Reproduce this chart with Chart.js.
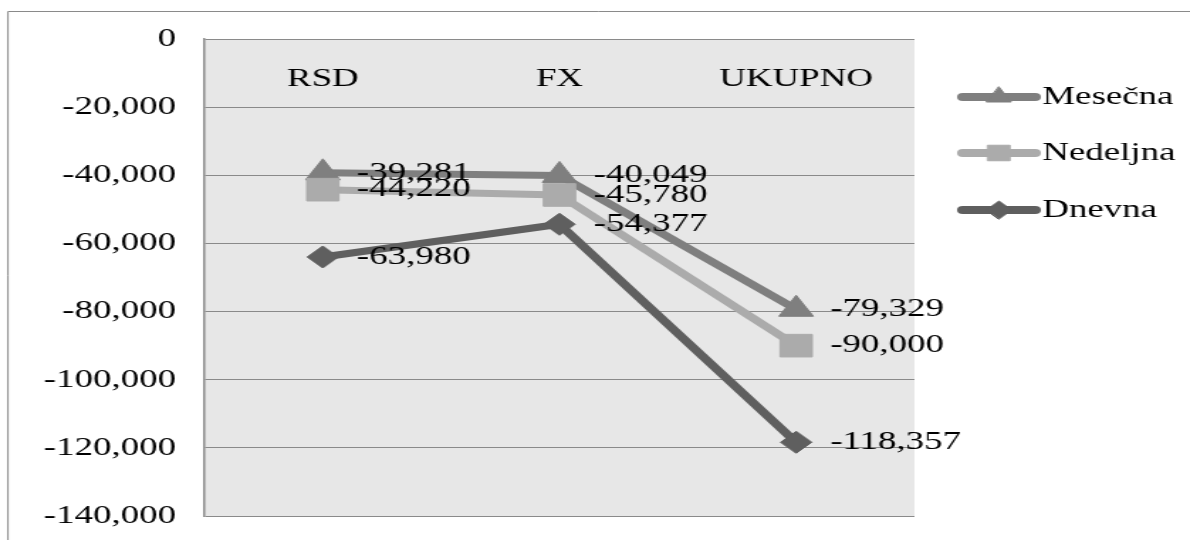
<!DOCTYPE html>
<html>
<head>
<meta charset="utf-8">
<script src="https://cdn.jsdelivr.net/npm/chart.js@4.4.1/dist/chart.umd.min.js"></script>
<style>
  html, body { margin: 0; padding: 0; background: #fff; overflow: hidden; }
  /* the chart is drawn narrow and stretched sideways, like the exported report figure */
  #wrap { width: 838px; height: 540px; transform: scaleX(1.42); transform-origin: 0 0; }
</style>
</head>
<body>
<div id="wrap"><canvas id="chart"></canvas></div>
<script>
// ---- data ----
const categories = ["RSD", "FX", "UKUPNO"];
const seriesNames = ["Mesečna", "Nedeljna", "Dnevna"];
const mesecna = [-39281, -40049, -79329];
const nedeljna = [-44220, -45780, -90000];
const dnevna = [-63980, -54377, -118357];
const yTicks = [-140000, -120000, -100000, -80000, -60000, -40000, -20000, 0];

const GRID = "#8a8a8a";
const fmt = v => v.toLocaleString("en-US");

Chart.defaults.font.family = "'Liberation Serif', 'Times New Roman', serif";
Chart.defaults.font.size = 26;
Chart.defaults.color = "#000";

// gray plot area + outer frame
const plotBackground = {
    id: "plotBackground",
    beforeDraw(chart) {
        const { ctx, chartArea: a } = chart;
        ctx.save();
        ctx.fillStyle = "#e7e7e7";
        ctx.fillRect(a.left, a.top, a.right - a.left, a.bottom - a.top);
        ctx.strokeStyle = GRID;
        ctx.lineWidth = 1;
        ctx.beginPath();
        ctx.moveTo(5.6, chart.height);
        ctx.lineTo(5.6, 11.5);
        ctx.lineTo(chart.width, 11.5);
        ctx.stroke();
        ctx.restore();
    }
};

// value next to every point
const valueLabels = {
    id: "valueLabels",
    afterDatasetsDraw(chart) {
        const ctx = chart.ctx;
        ctx.save();
        ctx.font = "26px 'Liberation Serif', 'Times New Roman', serif";
        ctx.fillStyle = "#000";
        ctx.textAlign = "left";
        ctx.textBaseline = "middle";
        chart.data.datasets.forEach((ds, i) => {
            chart.getDatasetMeta(i).data.forEach((pt, j) => {
                ctx.fillText(fmt(ds.data[j]), pt.x + 24, pt.y);
            });
        });
        ctx.restore();
    }
};

// legend on the right: line + marker + name
const sideLegend = {
    id: "sideLegend",
    afterDraw(chart) {
        const ctx = chart.ctx;
        const x1 = 678, x2 = 729, tx = 734;
        const ys = [97, 153, 210];
        const radii = [10, 11, 9];
        ctx.save();
        chart.data.datasets.forEach((ds, i) => {
            const y = ys[i];
            ctx.strokeStyle = ds.borderColor;
            ctx.lineWidth = 8;
            ctx.lineCap = "round";
            ctx.beginPath();
            ctx.moveTo(x1, y);
            ctx.lineTo(x2, y);
            ctx.stroke();
            ctx.fillStyle = ds.borderColor;
            ctx.strokeStyle = ds.borderColor;
            ctx.lineWidth = 1;
            Chart.helpers.drawPoint(ctx, { pointStyle: ds.pointStyle, radius: radii[i], rotation: 0, borderWidth: 1 }, (x1 + x2) / 2, y);
            ctx.fillStyle = "#000";
            ctx.font = "26px 'Liberation Serif', 'Times New Roman', serif";
            ctx.textAlign = "left";
            ctx.textBaseline = "middle";
            ctx.fillText(ds.label, tx, y);
        });
        ctx.restore();
    }
};

function series(label, data, color, style, radius, order) {
    return {
        label, data, order,
        borderColor: color,
        backgroundColor: color,
        borderWidth: 7,
        borderJoinStyle: "round",
        borderCapStyle: "round",
        tension: 0,
        pointStyle: style,
        pointRadius: radius,
        pointHoverRadius: radius,
        pointBackgroundColor: color,
        pointBorderColor: color,
        pointBorderWidth: 1
    };
}

new Chart(document.getElementById("chart"), {
    type: "line",
    data: {
        labels: categories,
        datasets: [
            series(seriesNames[0], mesecna, "#7f7f7f", "triangle", 14, 3),
            series(seriesNames[1], nedeljna, "#ababab", "rect", 16, 2),
            series(seriesNames[2], dnevna, "#5f5f5f", "rectRot", 11, 1)
        ]
    },
    options: {
        responsive: true,
        maintainAspectRatio: false,
        animation: false,
        layout: { padding: { left: 0, top: 39, right: 194, bottom: 24 } },
        plugins: {
            legend: { display: false },
            tooltip: { enabled: false }
        },
        scales: {
            x: {
                position: { y: 0 },
                offset: true,
                grid: { display: false },
                border: { display: false },
                ticks: { padding: 17, maxRotation: 0, color: "#000" }
            },
            y: {
                position: "left",
                min: -140000,
                max: 0,
                afterBuildTicks: s => { s.ticks = yTicks.map(v => ({ value: v })); },
                afterFit: s => {
                    s.width = 144;
                    // tick padding shouldn't eat into the plot height
                    s.paddingTop = 0;
                    s.paddingBottom = 0;
                },
                grid: { color: GRID, lineWidth: 1, drawTicks: false },
                border: { display: true, color: GRID, width: 1.5 },
                ticks: { padding: 20, color: "#000", callback: v => fmt(v) }
            }
        }
    },
    plugins: [plotBackground, valueLabels, sideLegend]
});
</script>
</body>
</html>
